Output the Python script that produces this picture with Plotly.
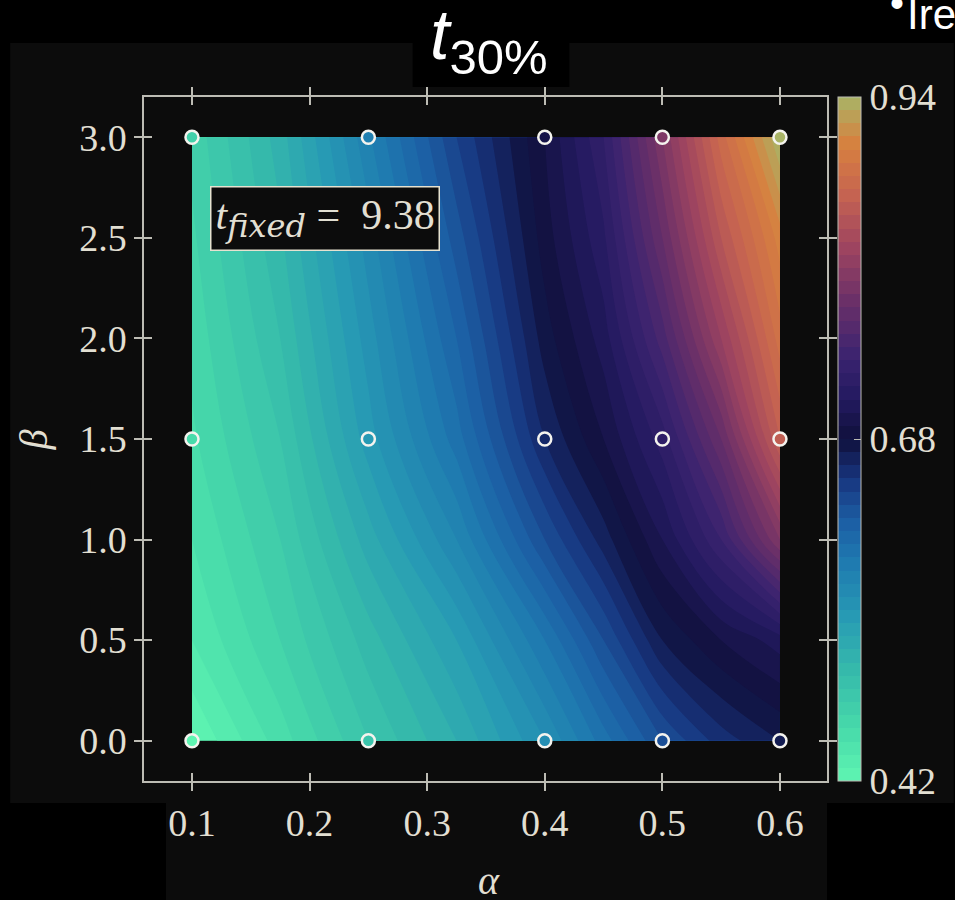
import plotly.graph_objects as go

# ---- data ----
alpha_grid = [0.1, 0.175, 0.25, 0.325, 0.4, 0.45, 0.5, 0.55, 0.6]
beta_grid = [0.0, 0.5, 1.0, 1.5, 2.0, 2.5, 3.0]
t30_grid = [
    [0.420, 0.455, 0.490, 0.520, 0.560, 0.595, 0.630, 0.655, 0.670],
    [0.440, 0.470, 0.505, 0.540, 0.590, 0.630, 0.670, 0.690, 0.705],
    [0.450, 0.480, 0.525, 0.570, 0.630, 0.665, 0.700, 0.740, 0.800],
    [0.458, 0.490, 0.545, 0.595, 0.660, 0.690, 0.725, 0.780, 0.860],
    [0.463, 0.500, 0.555, 0.610, 0.675, 0.705, 0.755, 0.820, 0.885],
    [0.468, 0.508, 0.565, 0.625, 0.685, 0.718, 0.780, 0.850, 0.905],
    [0.473, 0.515, 0.578, 0.640, 0.690, 0.730, 0.800, 0.875, 0.940],
]
alpha_pts = [0.1, 0.25, 0.4, 0.5, 0.6]
beta_pts = [0.0, 1.5, 3.0]
t30_pts = [
    [0.420, 0.490, 0.560, 0.630, 0.670],
    [0.458, 0.545, 0.660, 0.725, 0.860],
    [0.473, 0.578, 0.690, 0.800, 0.940],
]
cbar_ticks = [0.42, 0.68, 0.94]
x_ticks = [0.1, 0.2, 0.3, 0.4, 0.5, 0.6]
y_ticks = [0.0, 0.5, 1.0, 1.5, 2.0, 2.5, 3.0]
t_fixed_label = "9.38"

# ---- style ----
W, H = 955, 900
L, T, PW, PH = 144, 97, 684, 684
def px(xp):
    return (xp - L) / PW
def py(yp):
    return (T + PH - yp) / PH

cscale = [
    [0.00, "#5ff5b2"],
    [0.08, "#46d8aa"],
    [0.16, "#36baab"],
    [0.24, "#279ab4"],
    [0.32, "#1f7ab0"],
    [0.38, "#1c5ea4"],
    [0.44, "#183680"],
    [0.50, "#10103c"],
    [0.56, "#231a60"],
    [0.62, "#3b2370"],
    [0.70, "#6a3068"],
    [0.78, "#9e4460"],
    [0.86, "#c76550"],
    [0.93, "#d7803f"],
    [1.00, "#a9b466"],
]
zmin, zmax = 0.42, 0.94
txt = "#e2dfd2"
line_c = "#bdbcb4"
serif = "Liberation Serif"

fig = go.Figure()
fig.add_trace(go.Contour(
    x=alpha_grid, y=beta_grid, z=t30_grid,
    colorscale=cscale, zmin=zmin, zmax=zmax,
    contours=dict(start=zmin, end=zmax, size=0.01, coloring="fill"),
    line=dict(width=0),
    colorbar=dict(
        x=px(838), xanchor="left", xpad=0, thickness=23,
        y=0.5, yanchor="middle", len=PH, lenmode="pixels", ypad=0,
        outlinecolor=line_c, outlinewidth=1,
        tickvals=cbar_ticks, ticktext=[f"{v:.2f}" for v in cbar_ticks],
        ticks="inside", ticklen=7, tickcolor=line_c,
        tickfont=dict(family=serif, size=38, color=txt),
    ),
))
flat_a = [a for _ in beta_pts for a in alpha_pts]
flat_b = [b for b in beta_pts for _ in alpha_pts]
flat_v = [v for row in t30_pts for v in row]
fig.add_trace(go.Scatter(
    x=flat_a, y=flat_b, mode="markers",
    marker=dict(size=13, color=flat_v, colorscale=cscale, cmin=zmin, cmax=zmax,
                line=dict(color="#f4f3ee", width=2.5), showscale=False),
    hoverinfo="skip", showlegend=False,
))
fig.add_trace(go.Scatter(x=[None], y=[None], xaxis="x2", yaxis="y2",
                         showlegend=False, hoverinfo="skip"))

xr = [0.0592, 0.6400]
yr = [-0.2, 3.2]
axcommon = dict(showgrid=False, zeroline=False, showline=True, linecolor=line_c,
                linewidth=1.5, mirror="allticks", ticklen=8, tickwidth=1.5,
                tickcolor=line_c, tickfont=dict(family=serif, size=38, color=txt))
fig.update_layout(
    width=W, height=H, autosize=False,
    margin=dict(l=L, r=W - L - PW, t=T, b=H - T - PH),
    paper_bgcolor="#000000", plot_bgcolor="#0c0c0c",
    xaxis=dict(range=xr, tickvals=x_ticks, ticktext=[f"{v:.1f}" for v in x_ticks],
               ticks="outside", **axcommon),
    yaxis=dict(range=yr, tickvals=y_ticks, ticktext=[f"{v:.1f}" for v in y_ticks],
               ticks="outside", **axcommon),
    xaxis2=dict(range=xr, tickvals=x_ticks, ticks="inside", showticklabels=False,
                overlaying="x", anchor="y2", **axcommon),
    yaxis2=dict(range=yr, tickvals=y_ticks, ticks="inside", showticklabels=False,
                overlaying="y", anchor="x2", **axcommon),
    shapes=[
        dict(type="rect", xref="paper", yref="paper", layer="below",
             x0=px(10), x1=px(955), y0=py(803), y1=py(43),
             fillcolor="#0c0c0c", line=dict(width=0)),
        dict(type="rect", xref="paper", yref="paper", layer="below",
             x0=px(166), x1=px(828), y0=py(900), y1=py(803),
             fillcolor="#0c0c0c", line=dict(width=0)),
        dict(type="rect", xref="paper", yref="paper", layer="below",
             x0=px(413), x1=px(570), y0=py(87), y1=py(0),
             fillcolor="#000000", line=dict(width=0)),
    ],
    annotations=[
        dict(xref="paper", yref="paper", x=px(490), y=py(40), xanchor="center",
             yanchor="middle", showarrow=False,
             text="<i>t</i><sub>30%</sub>",
             font=dict(family="Liberation Sans", size=70, color="#ffffff")),
        dict(xref="paper", yref="paper", x=px(898), y=py(3), xanchor="center",
             yanchor="middle", showarrow=False, text="•",
             font=dict(family="Liberation Sans", size=40, color="#ffffff")),
        dict(xref="paper", yref="paper", x=px(906), y=py(14), xanchor="left",
             yanchor="middle", showarrow=False, text="Ire",
             font=dict(family="Liberation Sans", size=42, color="#ffffff")),
        dict(xref="paper", yref="paper", x=px(210), y=py(186), xanchor="left",
             yanchor="top", showarrow=False,
             text="<i>t</i><sub><span style='font-family:DejaVu Serif;font-size:32px'>"
                  "<i>fixed</i></span></sub>&nbsp;=&nbsp;&nbsp;" + t_fixed_label,
             font=dict(family=serif, size=42, color=txt),
             bgcolor="#0c0c0c", bordercolor="#e6e2d0", borderwidth=1.5, borderpad=4),
        dict(xref="paper", yref="paper", x=px(490), y=py(880), xanchor="center",
             yanchor="middle", showarrow=False, text="<i>α</i>",
             font=dict(family=serif, size=40, color=txt)),
        dict(xref="paper", yref="paper", x=px(33), y=py(440), xanchor="center",
             yanchor="middle", showarrow=False, text="<i>β</i>", textangle=-90,
             font=dict(family=serif, size=40, color=txt)),
    ],
)
fig.write_html("out.html",
               config={"displayModeBar": False},
               post_script="document.body.style.margin='0';"
                           "document.body.style.background='#000';")
